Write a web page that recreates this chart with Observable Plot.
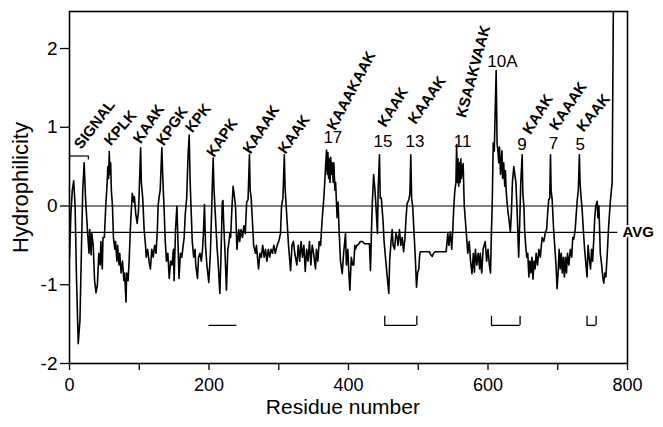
<!DOCTYPE html>
<html><head><meta charset="utf-8">
<script src="https://cdn.jsdelivr.net/npm/d3@7"></script>
<script src="https://cdn.jsdelivr.net/npm/@observablehq/plot@0.6"></script>
<style>body{margin:0;background:#fff}</style>
</head><body><div id="chart"></div>
<script>
// hydrophilicity profile
const residue = [
0,2,4,6,8,10,12.5,15,17,19,
21,23,26,28,29,31,32,34,36,38,
40,42,44,45,47,48,50,52,54,55,
56,57,58,59,60,61.6,63,65,66,68,
69,71,72,74,76,78,79,81,82,84,
85.5,87,88,90,92,93,95,97,99,100,
102,103,105,107,109,110,112,114,116,118,
120,122,124,126,127,128.6,130,132.4,134,135.7,
137,139,141,143,145,147,149,150,152,154,
155,157,159,161,163,164.4,166,168,170,171.6,
173,174,176,178,180,181,183.5,185,187,189,
190.7,192,193.5,195,197,199.7,202,204,205,206,
207,209,211.7,213,215.5,217,219,220,221,223,
225,227,228,230,231,233,234.6,236,238,240,
242.7,244,246,248,250,252,254,256,258,259,
260.5,262,264,266.7,268,271,273,275,277,279,
281,283,285,287,289,291,293,295,297.7,300,
302.5,304,306,308,309,310,312,314,317,319,
321,323,326,328,330,332,334,336,338,340,
342,344,346,348,350,352.7,354,356,358,360,
362,363.7,365,366.5,368.5,369.5,370.5,371.5,372.5,373.5,
374.5,375.5,377,378,379,380.5,381.5,383.7,385,386.5,
388.5,391,393,395.7,397,399,400.5,402,404,406,
407.6,409,410,412,415,417,420,423,427,430,
431.5,433,434,436,437.5,438.7,440,441.5,442.5,444.4,
445.5,447,449.6,451,453,455,457.8,459,461,462.6,
464,466,468,469.7,471,473,475,477,479,481,
482.5,484,486.5,488,489.3,490.5,492,494.6,496,497.5,
499,500.8,502,503,512,516,518,520,522,524,
540,542.4,544,546,548,549.5,551,552.5,554,555,
556,557,558,559,560,561,562,563,564.4,565.5,
566,569,571,573,575,577,579,580.5,582,584,
586,588,589,591,593,596,598,600,602,603.6,
605,606,607.5,609,611.7,613,614,615.5,616.5,618,
620,621,622.5,624,625,626,627.5,629,630.5,632,
633.5,635,637,638.5,640,641.9,643,644,645.5,647,
649,650,651.5,652.5,654,655.5,657,658.6,660,661.5,
663,664.5,666,667.5,669,671,673,675,677.6,680,
682.4,684,685.5,687,688.5,689.6,690.5,692,693.5,694.3,
696,697.5,699,700.5,702,703.5,705,706.5,708,709.5,
711,712.5,714,716,718,720,721.5,723,725,726.5,
728,729.5,731,732,733.5,735,737,738.5,740,742,
743.5,745,747,748.5,750,751.8,753,754.5,756.5,757.5,
759,761,763,764.5,766,767.5,769,771,773,775.6,
778,780
];
const hydrophilicity = [
-0.66,-0.1,0.2,0.32,0,-0.9,-1.75,-1.45,-0.6,0.2,
0.55,0.1,-0.35,-0.6,-0.3,-0.62,-0.35,-0.5,-0.95,-1.1,
-1.0,-0.6,-0.75,-0.45,-0.8,-0.4,-0.4,0,0.3,0.5,
0.35,0.69,0.4,0.55,0.2,0,-0.4,-0.55,-0.45,-0.7,
-0.5,-0.75,-0.6,-0.85,-0.7,-0.95,-0.85,-1.22,-0.85,-0.95,
-0.7,-0.35,-0.16,0.16,0.05,0.12,-0.1,-0.22,-0.05,0.2,
0.74,0.3,0.1,-0.3,-0.5,-0.65,-0.55,-0.7,-0.8,-0.55,
-0.65,-0.5,-0.6,-0.3,0,0.12,0.2,0.74,0.3,-0.05,
-0.4,-0.7,-0.6,-0.92,-0.7,-0.75,-0.55,-0.95,-0.3,0,
-0.3,-0.92,-0.6,-0.65,-0.5,-0.4,-0.1,0.1,0.65,0.9,
0.3,0.05,-0.45,-0.65,-0.55,-0.75,-0.92,-0.65,-0.6,-0.7,
-0.55,-0.35,0.02,-0.5,-0.75,-0.97,-0.6,0,0.35,0.61,
0.25,-0.1,-0.55,-0.7,-1.11,-0.7,0.05,0.07,-0.2,-0.6,
-1.07,-0.55,-0.5,-0.35,-0.4,0,0.25,0.15,0,-0.55,
-0.3,-0.45,-0.3,-0.4,-0.25,-0.35,0.05,0.08,0.65,0.2,
0.1,-0.15,-0.5,-0.6,-0.5,-0.8,-0.6,-0.65,-0.5,-0.65,
-0.55,-0.7,-0.55,-0.65,-0.55,-0.6,-0.5,-0.6,-0.5,-0.45,
-0.35,0,0.1,0.65,0.25,0.1,-0.2,-0.5,-0.82,-0.5,
-0.45,-0.6,-0.75,-0.5,-0.7,-0.45,-0.65,-0.5,-0.83,-0.55,
-0.7,-0.45,-0.75,-0.5,-0.6,-0.8,-0.55,-0.7,-0.45,-0.5,
-0.2,0,0.15,0.4,0.71,0.4,0.68,0.35,0.6,0.3,
0.62,0.4,0.55,0.3,0.55,0.2,0.3,-0.15,0.05,-0.3,
-0.7,-0.86,-0.6,-0.35,-0.75,-0.55,-0.85,-1.07,-0.65,-0.75,
-0.75,-0.5,-0.55,-0.5,-0.48,-0.45,-0.45,-0.48,-0.48,-0.48,
-0.82,-0.3,0,0.4,0.25,0.1,-0.1,-0.35,0.2,0.65,
0.1,0.1,-0.2,-0.45,-0.65,-0.85,-1.11,-0.7,-0.45,-0.3,
-0.5,-0.55,-0.35,-0.4,-0.5,-0.3,-0.5,-0.4,-0.58,-0.4,
-0.15,0.03,0.08,0.15,0.65,0.1,0,-0.45,-0.7,-1.03,
-0.85,-0.8,-0.62,-0.58,-0.58,-0.58,-0.62,-0.64,-0.6,-0.58,
-0.58,-0.35,-0.5,-0.33,-0.55,-0.3,0,0.2,0.3,0.78,
0.3,0.6,0.25,0.55,0.3,0.6,0.35,0.5,0.54,0.15,
0,-0.35,-0.6,-0.45,-0.7,-0.86,-0.6,-0.84,-0.55,-0.75,
-0.6,-0.8,-0.6,-0.85,-0.55,-0.45,-0.7,-0.55,-0.75,-0.85,
-0.3,0,0.8,0.7,1.72,0.8,0.72,0.55,0.75,0.4,
0.7,0.35,0.55,0.25,0.45,0.2,0.03,-0.1,-0.2,-0.33,
-0.1,0.3,0.5,0.4,0.3,-0.1,-0.4,-0.65,-0.2,0.3,
0.65,0.15,0,-0.3,-0.5,-0.65,-0.6,-0.9,-0.7,-0.85,
-0.65,-0.93,-0.7,-0.8,-0.6,-0.75,-0.55,-0.65,-0.4,-0.45,
-0.33,-0.3,-0.1,0.08,0.1,0.65,0.2,0.08,-0.2,-0.33,
-0.55,-0.75,-1.05,-0.85,-0.55,-0.8,-0.6,-0.85,-0.65,-0.9,
-0.65,-0.85,-0.6,-0.75,-0.55,-0.65,-0.4,-0.42,-0.3,-0.1,
0.08,0.2,0.65,0.3,0.1,-0.05,-0.35,-0.55,-0.7,-0.9,
-0.5,-0.65,-0.8,-0.55,-0.7,-0.4,-0.15,0,0.06,-0.15,
0,-0.6,-0.75,-0.9,-0.98,-0.85,-0.9,-0.6,-0.25,0.08,
0.3,2.9
];
const avgValue = -0.335;
const avgEnd = 786;
const xTicks = [0,100,200,300,400,500,600,700,800];
const yTicks = [-2,-1,0,1,2];

// rotated motif labels
const motifText  = ["SIGNAL","KPLK","KAAK","KPGK","KPK","KAPK","KAAAK","KAAK","KAAAKAAK","KAAK","KAAAK","KSAAKVAAK","KAAK","KAAAK","KAAK"];
const motifRes   = [17, 59, 102, 135, 176, 207, 259.5, 309.7, 381, 453, 496, 568, 661, 699, 737];
const motifVal   = [0.71, 0.755, 0.78, 0.755, 0.92, 0.61, 0.65, 0.65, 0.95, 0.99, 1.03, 1.11, 0.9, 0.95, 0.93];
const motifAngle = [-53, -49, -56, -55, -52, -55, -57, -55, -62, -58, -55, -75, -58, -56, -51];

// repeat numbers
const repeatText = ["17","15","13","11","10A","9","7","5"];
const repeatRes  = [364, 436, 481.7, 551, 599, 642, 687, 725.4];
const repeatVal  = [0.8, 0.75, 0.755, 0.755, 1.77, 0.71, 0.73, 0.71];

// signal brace
const braceStart = 0, braceEnd = 27, braceY = 0.635, braceTickY = 0.585;

// segments below the trace
const barStart = [200], barEnd = [240];
const bracketStart = [452, 605, 742];
const bracketEnd = [498, 646, 755];
const bracketY = -1.516, bracketTickY = -1.4;

const profile = residue.map((r, i) => ({r, v: hydrophilicity[i]}));
const motifs = motifText.map((t, i) => ({t, r: motifRes[i], v: motifVal[i], a: motifAngle[i]}));
const repeats = repeatText.map((t, i) => ({t, r: repeatRes[i], v: repeatVal[i]}));
const segs = barStart.map((s, i) => ({s, e: barEnd[i]}))
  .concat(bracketStart.map((s, i) => ({s, e: bracketEnd[i]})));
const bracketEnds = bracketStart.concat(bracketEnd);

const chart = Plot.plot({
  width: 663,
  height: 427,
  marginLeft: 69,
  marginRight: 36,
  marginTop: 11,
  marginBottom: 64,
  style: {fontFamily: "'Liberation Sans', Arial, sans-serif", background: "#fff", color: "#000"},
  x: {domain: [0, 800]},
  y: {domain: [-2, 2.47]},
  marks: [
    Plot.ruleY([0], {stroke: "#000", strokeWidth: 1.2}),
    Plot.ruleY([avgValue], {x1: 0, x2: avgEnd, stroke: "#000", strokeWidth: 1.2}),
    Plot.line(profile, {x: "r", y: "v", stroke: "#000", strokeWidth: 1.6, clip: true}),
    Plot.frame({stroke: "#000", strokeWidth: 1.6}),
    Plot.axisY({ticks: yTicks, tickSize: 9, tickPadding: 3, tickFormat: d => String(d), fontSize: 19, label: null, strokeWidth: 1.3}),
    Plot.axisX({ticks: xTicks, tickSize: 7, tickPadding: 8, tickFormat: d => d % 200 === 0 ? String(d) : "", fontSize: 18, label: null, strokeWidth: 1.3}),
    Plot.ruleY(segs, {y: bracketY, x1: "s", x2: "e", stroke: "#000", strokeWidth: 1.3}),
    Plot.ruleX(bracketEnds, {x: d => d, y1: bracketY, y2: bracketTickY, stroke: "#000", strokeWidth: 1.3}),
    Plot.ruleY([braceY], {x1: braceStart, x2: braceEnd, stroke: "#000", strokeWidth: 1.2}),
    Plot.ruleX([braceStart, braceEnd], {y1: braceTickY, y2: braceY, stroke: "#000", strokeWidth: 1.2}),
    Plot.text(motifs, {x: "r", y: "v", text: "t", rotate: "a", textAnchor: "start", lineAnchor: "bottom", fontSize: 15, fontWeight: "bold", fill: "#000"}),
    Plot.text(repeats, {x: "r", y: "v", text: "t", textAnchor: "start", lineAnchor: "bottom", fontSize: 17, fill: "#000"}),
    Plot.text(["AVG"], {x: 793, y: avgValue, text: d => d, textAnchor: "start", fontSize: 15, fontWeight: "bold", fill: "#000", stroke: "#fff", strokeWidth: 4}),
    Plot.text(["Hydrophilicity"], {x: 0, y: 0.235, dx: -49, rotate: -90, text: d => d, fontSize: 22, fill: "#000"}),
    Plot.text(["Residue number"], {x: 392, y: -2, dy: 44, text: d => d, fontSize: 21, fill: "#000"})
  ]
});
document.getElementById("chart").appendChild(chart);
</script>
</body></html>
